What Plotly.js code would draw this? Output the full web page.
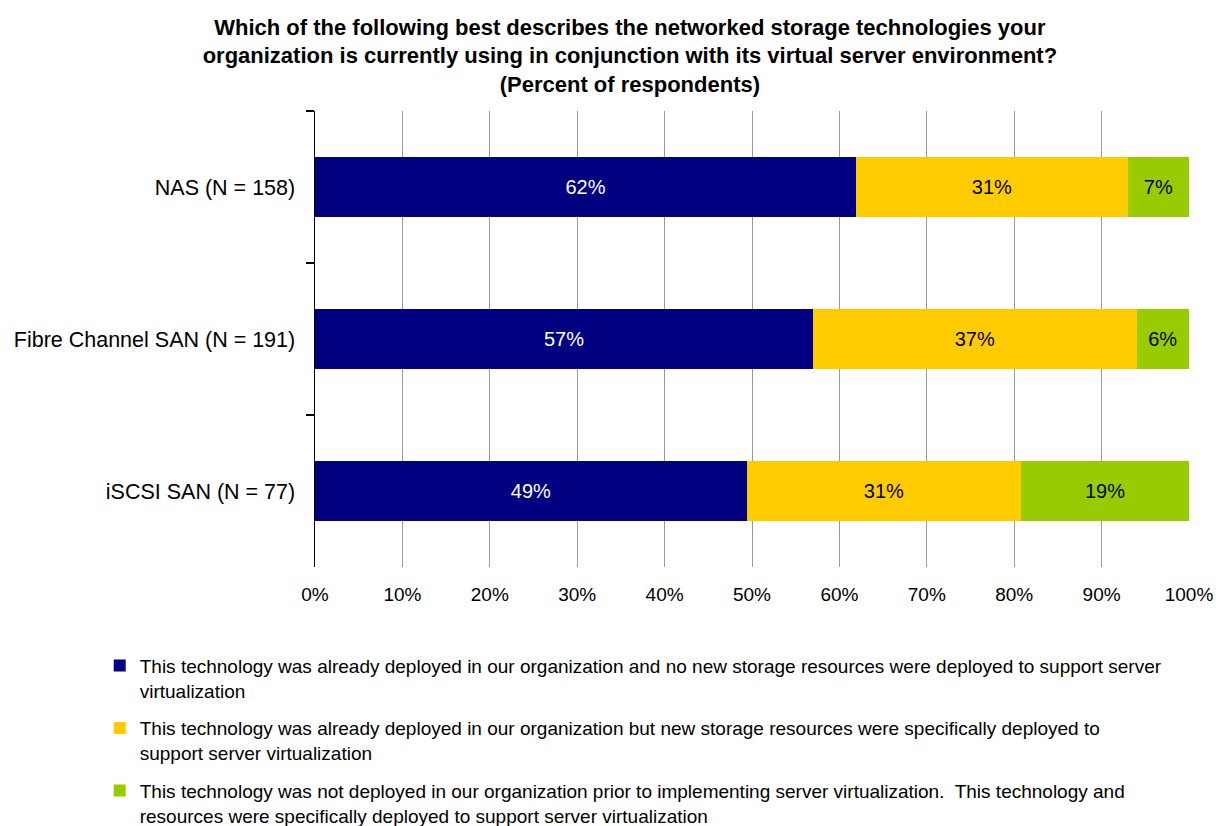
<!DOCTYPE html>
<html>
<head>
<meta charset="utf-8">
<script src="https://cdn.plot.ly/plotly-3.0.1.min.js"></script>
<style>
  html, body { margin: 0; padding: 0; background: #fff; }
  #chart { width: 1216px; height: 826px; }
</style>
</head>
<body>
<div id="chart"></div>
<script>
// ---- data ----
const categories = ['NAS (N = 158)', 'Fibre Channel SAN (N = 191)', 'iSCSI SAN (N = 77)'];
const alreadyNoNew   = [61.9, 57.0, 49.4];
const alreadyWithNew = [31.1, 37.0, 31.4];
const newlyDeployed  = [7.0, 6.0, 19.2];
const seriesNames = [
  'This technology was already deployed in our organization and no new storage resources were deployed to support server<br>virtualization',
  'This technology was already deployed in our organization but new storage resources were specifically deployed to<br>support server virtualization',
  'This technology was not deployed in our organization prior to implementing server virtualization.  This technology and<br>resources were specifically deployed to support server virtualization'
];
const xTickValues = [0, 10, 20, 30, 40, 50, 60, 70, 80, 90, 100];
const xTickLabels = ['0%', '10%', '20%', '30%', '40%', '50%', '60%', '70%', '80%', '90%', '100%'];

const FONT = 'Liberation Sans, Arial, Helvetica, sans-serif';
const colors = ['#000080', '#FFCC00', '#99CC00'];
const textColors = ['#ffffff', '#000000', '#000000'];
const values = [alreadyNoNew, alreadyWithNew, newlyDeployed];

const traces = values.map((v, i) => ({
  type: 'bar',
  orientation: 'h',
  y: categories,
  x: v,
  name: seriesNames[i],
  legendgroup: 'g' + i,
  marker: { color: colors[i], line: { width: 0 } },
  width: 0.4,
  texttemplate: '%{x:.0f}%',
  textposition: 'inside',
  insidetextanchor: 'middle',
  textangle: 0,
  constraintext: 'none',
  textfont: { family: FONT, size: 20, color: textColors[i] },
  hoverinfo: 'x+y+name'
}));

const layout = {
  width: 1216,
  height: 826,
  paper_bgcolor: '#ffffff',
  plot_bgcolor: '#ffffff',
  barmode: 'stack',
  font: { family: FONT, color: '#000000' },
  margin: { l: 315, r: 27, t: 111, b: 259, autoexpand: false },
  title: {
    text: '<b>Which of the following best describes the networked storage technologies your<br>organization is currently using in conjunction with its virtual server environment?<br>(Percent of respondents)</b>',
    font: { family: FONT, size: 22, color: '#000000' },
    xref: 'container', x: 0.518, xanchor: 'center',
    yref: 'container', y: 0.958, yanchor: 'top'
  },
  xaxis: {
    range: [0, 100],
    tickmode: 'array',
    tickvals: xTickValues,
    ticktext: xTickLabels,
    showgrid: true,
    gridcolor: '#9a9a9a',
    gridwidth: 1,
    zeroline: false,
    showline: false,
    ticks: '',
    ticklabelstandoff: 14,
    tickfont: { family: FONT, size: 19, color: '#000000' },
    automargin: false,
    fixedrange: true
  },
  yaxis: {
    type: 'category',
    categoryorder: 'array',
    categoryarray: categories,
    autorange: 'reversed',
    showgrid: false,
    zeroline: false,
    showline: true,
    linecolor: '#000000',
    linewidth: 1.5,
    ticks: 'outside',
    tickson: 'boundaries',
    ticklen: 8,
    tickcolor: '#000000',
    tickwidth: 1.5,
    ticklabelstandoff: 14,
    tickfont: { family: FONT, size: 21.5, color: '#000000' },
    automargin: false,
    fixedrange: true
  },
  legend: {
    orientation: 'v',
    xref: 'container', x: 0.082, xanchor: 'left',
    yref: 'container', y: 0.217, yanchor: 'top',
    traceorder: 'grouped',
    tracegroupgap: 10,
    valign: 'top',
    font: { family: FONT, size: 19, color: '#000000' },
    bgcolor: 'rgba(0,0,0,0)',
    borderwidth: 0
  },
  showlegend: true
};

Plotly.newPlot('chart', traces, layout, { displayModeBar: false, staticPlot: true });
</script>
</body>
</html>
